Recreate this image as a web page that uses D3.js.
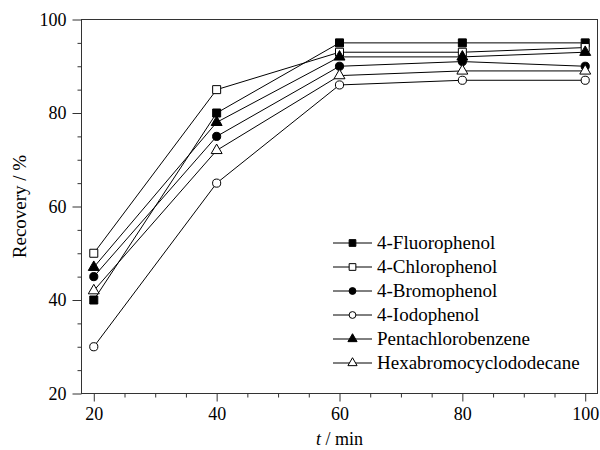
<!DOCTYPE html>
<html>
<head>
<meta charset="utf-8">
<script src="https://cdn.jsdelivr.net/npm/d3@7"></script>
<style>
  body { margin: 0; background: #fff; }
  svg text { font-family: "Liberation Serif", "Times New Roman", serif; fill: #000; }
</style>
</head>
<body>
<svg width="600" height="450"></svg>
<script>
// data
const times = [20, 40, 60, 80, 100];
const names = ["4-Fluorophenol", "4-Chlorophenol", "4-Bromophenol", "4-Iodophenol", "Pentachlorobenzene", "Hexabromocyclododecane"];
const fluoro = [40, 80, 95, 95, 95];
const chloro = [50, 85, 93, 93, 94];
const bromo = [45, 75, 90, 91, 90];
const iodo = [30, 65, 86, 87, 87];
const penta = [47, 78, 92, 92, 93];
const hexa = [42, 72, 88, 89, 89];
const xTicks = [20, 40, 60, 80, 100];
const yTicks = [20, 40, 60, 80, 100];

const series = [
  { name: names[0], values: fluoro, shape: d3.symbolSquare, filled: true },
  { name: names[1], values: chloro, shape: d3.symbolSquare, filled: false },
  { name: names[2], values: bromo, shape: d3.symbolCircle, filled: true },
  { name: names[3], values: iodo, shape: d3.symbolCircle, filled: false },
  { name: names[4], values: penta, shape: d3.symbolTriangle, filled: true },
  { name: names[5], values: hexa, shape: d3.symbolTriangle, filled: false }
];

const svg = d3.select("svg");
const serif = '"Liberation Serif", "Times New Roman", serif';
const plotLeft = 81.5, plotRight = 597.5, plotTop = 19.5, plotBottom = 393.5;

const x = d3.scaleLinear().domain([18, 102]).range([plotLeft, plotRight]);
const y = d3.scaleLinear().domain([20, 100]).range([plotBottom, plotTop]);

function symSize(shape) {
  if (shape === d3.symbolSquare) return 64;
  return 52;
}

// frame
svg.append("rect")
  .attr("x", plotLeft).attr("y", plotTop)
  .attr("width", plotRight - plotLeft).attr("height", plotBottom - plotTop)
  .attr("fill", "none").attr("stroke", "#333").attr("stroke-width", 1);

// minor ticks every 5
const minorX = d3.range(20, 101, 5).filter(v => v % 20 !== 0);
const minorY = d3.range(20, 101, 5).filter(v => v % 20 !== 0);

const xMinor = svg.append("g").attr("transform", "translate(0," + plotBottom + ")")
  .call(d3.axisBottom(x).tickValues(minorX).tickSize(4).tickFormat(""));
const yMinor = svg.append("g").attr("transform", "translate(" + plotLeft + ",0)")
  .call(d3.axisLeft(y).tickValues(minorY).tickSize(4).tickFormat(""));

const xAxis = svg.append("g").attr("transform", "translate(0," + plotBottom + ")")
  .call(d3.axisBottom(x).tickValues(xTicks).tickSize(8).tickPadding(6));
const yAxis = svg.append("g").attr("transform", "translate(" + plotLeft + ",0)")
  .call(d3.axisLeft(y).tickValues(yTicks).tickSize(9).tickPadding(6));

[xMinor, yMinor, xAxis, yAxis].forEach(function(a) {
  a.attr("font-family", serif).attr("font-size", 18);
  a.select(".domain").remove();
  a.selectAll("line").attr("stroke", "#333");
  a.selectAll("text").style("font-family", serif).style("font-size", "18px").attr("fill", "#000");
});

// axis titles
const xt = svg.append("text")
  .attr("x", (plotLeft + plotRight) / 2).attr("y", 445)
  .attr("text-anchor", "middle")
  .style("font-size", "18px");
xt.append("tspan").style("font-style", "italic").text("t");
xt.append("tspan").text(" / min");

svg.append("text")
  .attr("transform", "translate(26," + ((plotTop + plotBottom) / 2) + ") rotate(-90)")
  .attr("text-anchor", "middle")
  .style("font-size", "19px")
  .text("Recovery / %");

// lines
const line = d3.line()
  .x(function(d, i) { return x(times[i]); })
  .y(function(d) { return y(d); });

svg.selectAll(".series-line")
  .data(series)
  .join("path")
  .attr("class", "series-line")
  .attr("d", function(d) { return line(d.values); })
  .attr("fill", "none")
  .attr("stroke", "#000")
  .attr("stroke-width", 1);

// markers
series.forEach(function(s) {
  svg.selectAll(null)
    .data(s.values)
    .join("path")
    .attr("transform", function(d, i) { return "translate(" + x(times[i]) + "," + y(d) + ")"; })
    .attr("d", d3.symbol().type(s.shape).size(symSize(s.shape)))
    .attr("fill", s.filled ? "#000" : "#fff")
    .attr("stroke", "#000")
    .attr("stroke-width", 1);
});

// legend
const legend = svg.append("g");
series.forEach(function(s, i) {
  const ly = 243 + i * 24;
  legend.append("line")
    .attr("x1", 333).attr("x2", 372)
    .attr("y1", ly).attr("y2", ly)
    .attr("stroke", "#000").attr("stroke-width", 1);
  legend.append("path")
    .attr("transform", "translate(352.5," + ly + ")")
    .attr("d", d3.symbol().type(s.shape).size(symSize(s.shape) * 0.7))
    .attr("fill", s.filled ? "#000" : "#fff")
    .attr("stroke", "#000").attr("stroke-width", 1);
  legend.append("text")
    .attr("x", 377).attr("y", ly + 6)
    .style("font-size", "19px")
    .text(s.name);
});
</script>
</body>
</html>
